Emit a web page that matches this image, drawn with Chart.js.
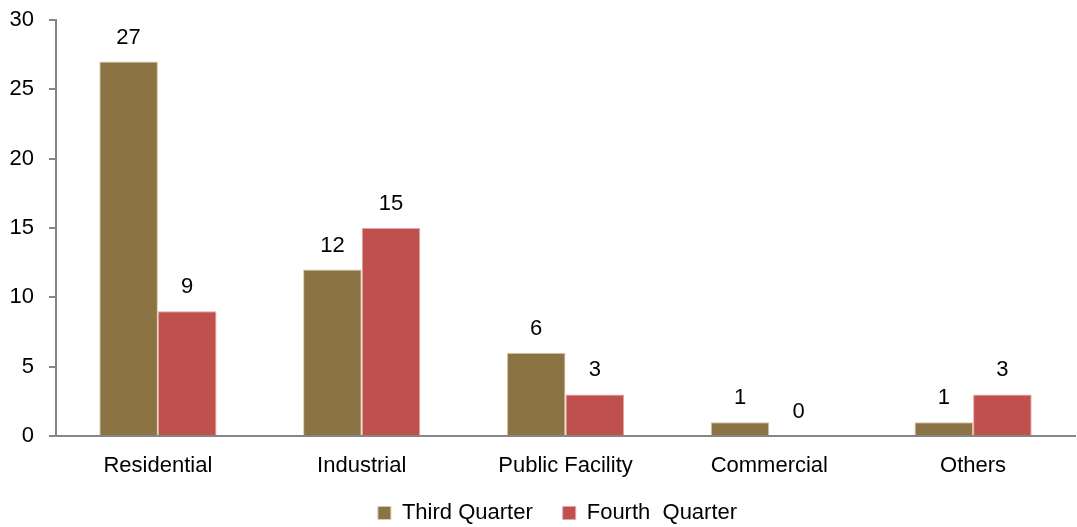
<!DOCTYPE html>
<html>
<head>
<meta charset="utf-8">
<script src="https://cdn.jsdelivr.net/npm/chart.js@4/dist/chart.umd.min.js"></script>
<style>
  html, body { margin: 0; padding: 0; background: #fff; }
  #wrap { width: 1077px; height: 527px; }
</style>
</head>
<body>
<div id="wrap"><canvas id="c"></canvas></div>
<script>
const categories = ["Residential", "Industrial", "Public Facility", "Commercial", "Others"];
const thirdQuarter = [27, 12, 6, 1, 1];
const fourthQuarter = [9, 15, 3, 0, 3];
const seriesNames = ["Third Quarter", "Fourth  Quarter"];

const FONT = "'Liberation Sans', Arial, sans-serif";
const SIZE = 22;

// labels above each bar
const valueLabels = {
    id: "valueLabels",
    afterDatasetsDraw(chart) {
        const ctx = chart.ctx;
        ctx.save();
        ctx.font = SIZE + "px " + FONT;
        ctx.fillStyle = "#000";
        ctx.textAlign = "center";
        ctx.textBaseline = "middle";
        chart.data.datasets.forEach((ds, i) => {
            chart.getDatasetMeta(i).data.forEach((bar, j) => {
                ctx.fillText(ds.data[j], bar.x, bar.y - 24);
            });
        });
        ctx.restore();
    }
};

// nudge the legend to where the original has it
const legendShift = {
    id: "legendShift",
    afterLayout(chart) {
        const lg = chart.legend;
        if (lg) {
            lg.top -= 7;
            lg.bottom -= 7;
            lg.left += 20;
            lg.right += 20;
        }
    }
};

new Chart(document.getElementById("c"), {
    type: "bar",
    data: {
        labels: categories,
        datasets: [
            {
                label: seriesNames[0],
                data: thirdQuarter,
                backgroundColor: "#8B7343",
                borderColor: "#D9CBA8",
                borderWidth: 1,
                categoryPercentage: 0.575,
                barPercentage: 1
            },
            {
                label: seriesNames[1],
                data: fourthQuarter,
                backgroundColor: "#C0504D",
                borderColor: "#E3A6A4",
                borderWidth: 1,
                categoryPercentage: 0.575,
                barPercentage: 1
            }
        ]
    },
    options: {
        responsive: true,
        maintainAspectRatio: false,
        animation: false,
        layout: { padding: { top: 20, right: 2, left: 0, bottom: -14 } },
        plugins: {
            tooltip: { enabled: false },
            legend: {
                position: "bottom",
                labels: {
                    font: { family: FONT, size: SIZE },
                    color: "#000",
                    boxWidth: 13,
                    boxHeight: 13,
                    padding: 30
                }
            }
        },
        scales: {
            x: {
                grid: { display: false },
                border: { color: "#868686", width: 2 },
                ticks: { font: { family: FONT, size: SIZE }, color: "#000", padding: 9 },
                afterFit(scale) { scale.height = 43; }
            },
            y: {
                min: 0,
                max: 30,
                ticks: { stepSize: 5, font: { family: FONT, size: SIZE }, color: "#000", padding: 15 },
                grid: { drawOnChartArea: false, drawTicks: true, tickLength: 7, color: "#868686", lineWidth: 2 },
                border: { color: "#868686", width: 2 },
                afterFit(scale) {
                    scale.width = 56;
                    scale.paddingTop = 0;
                    scale.paddingBottom = 0;
                }
            }
        }
    },
    plugins: [valueLabels, legendShift]
});
</script>
</body>
</html>
